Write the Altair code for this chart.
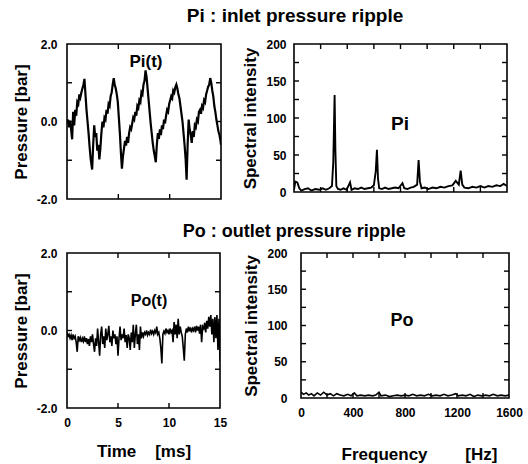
import altair as alt
import pandas as pd

FONT = "Liberation Sans"

# ---------------- data ----------------
# Pi(t): inlet pressure [bar] vs time [ms]
pi_samples = [
    (0.0, -0.05), (0.1, 0.05), (0.2, -0.15), (0.3, 0.02), (0.4, -0.2), (0.5, -0.46),
    (0.6, 0.25), (0.7, -0.1), (0.8, 0.3), (0.9, 0.15), (1.0, 0.5), (1.1, 0.45),
    (1.2, 0.7), (1.3, 0.62), (1.4, 0.75), (1.5, 0.85), (1.6, 0.95), (1.7, 1.1),
    (1.8, 0.7), (1.9, 0.3), (2.0, 0.0), (2.1, -0.3), (2.2, -0.65), (2.3, -0.95),
    (2.45, -1.24), (2.55, -0.6), (2.65, -0.1), (2.75, -0.4), (2.85, -0.3), (2.95, -0.75),
    (3.05, -0.6), (3.15, -0.98), (3.25, -0.7), (3.35, -0.3), (3.45, 0.0), (3.55, -0.15),
    (3.65, 0.1), (3.75, 0.05), (3.85, 0.3), (3.95, 0.2), (4.05, 0.45), (4.15, 0.4),
    (4.25, 0.65), (4.35, 0.75), (4.45, 0.95), (4.55, 1.12), (4.65, 0.95), (4.75, 0.85),
    (4.85, 0.7), (4.95, 0.5), (5.05, 0.1), (5.15, -0.3), (5.25, -0.8), (5.35, -1.22),
    (5.45, -0.9), (5.55, -0.7), (5.65, -0.5), (5.75, -0.62), (5.85, -0.4), (5.95, -0.55),
    (6.05, -0.3), (6.15, -0.15), (6.25, -0.2), (6.35, -0.05), (6.45, 0.1), (6.55, 0.05),
    (6.65, 0.25), (6.75, 0.15), (6.85, 0.4), (6.95, 0.35), (7.05, 0.55), (7.15, 0.5),
    (7.25, 0.75), (7.35, 0.7), (7.45, 0.95), (7.55, 1.05), (7.65, 1.32), (7.75, 1.15),
    (7.85, 0.85), (7.95, 0.55), (8.05, 0.25), (8.15, -0.05), (8.25, -0.3), (8.35, -0.55),
    (8.45, -0.75), (8.55, -0.9), (8.65, -1.05), (8.75, -0.6), (8.85, -0.3), (8.95, -0.45),
    (9.05, -0.2), (9.15, -0.35), (9.25, -0.1), (9.35, -0.2), (9.45, 0.05), (9.55, -0.05),
    (9.65, 0.15), (9.75, 0.3), (9.85, 0.25), (9.95, 0.45), (10.05, 0.55), (10.15, 0.65),
    (10.25, 0.6), (10.35, 0.8), (10.45, 0.75), (10.55, 0.88), (10.65, 0.95), (10.75, 0.85),
    (10.85, 0.7), (10.95, 0.6), (11.05, 0.4), (11.15, 0.2), (11.25, 0.0), (11.35, -0.3),
    (11.45, -0.6), (11.55, -0.95), (11.65, -1.5), (11.75, -0.6), (11.85, 0.05), (11.95, -0.2),
    (12.05, -0.35), (12.15, -0.55), (12.25, -0.25), (12.35, -0.4), (12.45, -0.1), (12.55, -0.15),
    (12.65, 0.05), (12.75, 0.0), (12.85, 0.25), (12.95, 0.3), (13.05, 0.2), (13.15, 0.4),
    (13.25, 0.35), (13.35, 0.55), (13.45, 0.5), (13.55, 0.7), (13.65, 0.8), (13.75, 0.9),
    (13.85, 0.95), (13.95, 1.12), (14.05, 1.0), (14.15, 0.8), (14.25, 0.65), (14.35, 0.4),
    (14.45, 0.25), (14.55, 0.05), (14.65, -0.1), (14.75, -0.25), (14.85, -0.35), (14.95, -0.5),
    (15.0, -0.6),
]

# Po(t): outlet pressure [bar] vs time [ms]
po_samples = [
    (0.0, -0.05), (0.1, -0.15), (0.2, -0.1), (0.3, -0.2), (0.4, -0.12), (0.5, -0.25),
    (0.6, -0.1), (0.7, -0.2), (0.8, -0.15), (0.9, -0.3), (1.0, -0.55), (1.1, -0.15),
    (1.2, -0.25), (1.3, -0.18), (1.4, -0.3), (1.5, -0.2), (1.6, -0.28), (1.7, -0.15),
    (1.8, -0.3), (1.9, -0.2), (2.0, -0.35), (2.1, -0.22), (2.2, -0.4), (2.3, -0.15),
    (2.4, -0.3), (2.5, -0.1), (2.6, -0.35), (2.7, -0.55), (2.8, -0.2), (2.9, -0.4),
    (3.0, 0.05), (3.1, -0.3), (3.2, -0.65), (3.3, -0.1), (3.4, 0.1), (3.5, -0.35),
    (3.6, -0.15), (3.7, -0.45), (3.8, 0.05), (3.9, -0.25), (4.0, -0.1), (4.1, 0.12),
    (4.2, -0.3), (4.3, -0.15), (4.4, -0.4), (4.5, 0.0), (4.6, -0.2), (4.7, -0.1),
    (4.8, -0.35), (4.9, -0.15), (5.0, -0.65), (5.1, -0.2), (5.2, 0.1), (5.3, -0.25),
    (5.4, -0.1), (5.5, -0.2), (5.6, 0.05), (5.7, -0.3), (5.8, -0.12), (5.9, -0.45),
    (6.0, -0.1), (6.1, -0.2), (6.2, -0.5), (6.3, -0.05), (6.4, -0.3), (6.5, 0.15),
    (6.6, -0.45), (6.7, -0.1), (6.8, 0.15), (6.9, -0.35), (7.0, -0.1), (7.1, -0.5),
    (7.2, 0.1), (7.3, -0.2), (7.4, -0.05), (7.5, -0.15), (7.6, -0.05), (7.7, -0.1),
    (7.8, 0.0), (7.9, -0.12), (8.0, -0.05), (8.1, -0.1), (8.2, 0.02), (8.3, -0.08),
    (8.4, -0.02), (8.5, -0.1), (8.6, 0.0), (8.7, -0.06), (8.8, 0.1), (8.9, -0.1),
    (9.0, -0.05), (9.1, -0.2), (9.2, -0.45), (9.3, -0.85), (9.4, -0.1), (9.5, -0.02),
    (9.6, -0.08), (9.7, 0.05), (9.8, -0.05), (9.9, 0.0), (10.0, -0.1), (10.1, 0.05),
    (10.2, -0.05), (10.3, 0.0), (10.4, -0.3), (10.5, 0.22), (10.6, -0.1), (10.7, 0.15),
    (10.8, -0.2), (10.9, 0.3), (11.0, -0.1), (11.1, 0.1), (11.2, -0.05), (11.3, -0.15),
    (11.4, -0.45), (11.5, -0.78), (11.6, -0.1), (11.7, 0.05), (11.8, -0.05), (11.9, 0.1),
    (12.0, -0.02), (12.1, 0.08), (12.2, -0.05), (12.3, 0.05), (12.4, 0.0), (12.5, 0.1),
    (12.6, -0.05), (12.7, 0.12), (12.8, 0.0), (12.9, 0.1), (13.0, -0.08), (13.1, 0.15),
    (13.2, -0.3), (13.3, 0.1), (13.4, 0.05), (13.5, 0.2), (13.6, -0.05), (13.7, 0.25),
    (13.8, 0.05), (13.9, 0.35), (14.0, 0.1), (14.1, 0.4), (14.2, -0.1), (14.3, 0.3),
    (14.4, -0.3), (14.5, 0.35), (14.6, -0.2), (14.7, 0.4), (14.8, -0.5), (14.9, 0.3),
    (15.0, -0.8),
]

# Spectra: frequency [Hz], spectral intensity
pi_spectrum = [
    (0, 3), (10, 14), (25, 13), (40, 5), (55, 2), (80, 4), (105, 5), (130, 2), (160, 4),
    (190, 3), (215, 5), (240, 3), (265, 5), (285, 8), (295, 40), (305, 131), (311, 55),
    (318, 8), (330, 4), (350, 3), (372, 5), (395, 3), (421, 13), (432, 3), (455, 5),
    (480, 4), (505, 6), (530, 4), (555, 5), (580, 6), (600, 9), (614, 28), (623, 57),
    (631, 18), (640, 5), (660, 4), (685, 6), (710, 4), (735, 5), (760, 6), (785, 5),
    (815, 12), (828, 5), (852, 4), (876, 6), (900, 7), (925, 10), (936, 43), (946, 14),
    (958, 5), (982, 6), (1010, 4), (1040, 6), (1070, 5), (1100, 7), (1130, 6), (1160, 8),
    (1190, 9), (1215, 15), (1238, 10), (1252, 29), (1264, 10), (1280, 6), (1310, 5),
    (1340, 7), (1370, 6), (1400, 8), (1430, 6), (1460, 8), (1490, 7), (1520, 9),
    (1550, 8), (1575, 11), (1600, 8),
]

po_spectrum = [
    (0, 8), (20, 5), (40, 7), (60, 4), (80, 6), (100, 3), (125, 7), (150, 4), (175, 8),
    (200, 4), (225, 6), (250, 3), (275, 6), (300, 4), (330, 3), (360, 5), (385, 3),
    (410, 7), (430, 3), (460, 4), (490, 3), (520, 4), (550, 3), (575, 4), (600, 8),
    (615, 3), (650, 4), (680, 2), (710, 3), (740, 4), (770, 3), (800, 4), (830, 3),
    (860, 5), (890, 3), (920, 4), (950, 3), (980, 5), (1010, 3), (1040, 4), (1070, 3),
    (1100, 5), (1130, 3), (1160, 4), (1190, 6), (1210, 3), (1240, 4), (1270, 3),
    (1300, 5), (1330, 2), (1360, 4), (1390, 3), (1420, 4), (1450, 3), (1480, 5),
    (1510, 3), (1540, 4), (1570, 3), (1600, 4),
]

# axis tick positions and labels
time_ticks = [5, 10]
time_labels = [0, 5, 10, 15]
pressure_ticks = [-1, 0, 1]
pressure_labels = [-2, 0, 2]
freq_ticks = [200, 400, 600, 800, 1000, 1200, 1400]
freq_labels = [0, 400, 800, 1200, 1600]
intensity_ticks = [25, 50, 75, 100, 125, 150, 175]
intensity_labels = [0, 50, 100, 150, 200]

NBSP = "\u00a0"
TIME_TITLE = "Time" + NBSP * 4 + "[ms]"
FREQ_TITLE = "Frequency" + NBSP * 8 + "[Hz]"


def to_df(pairs, xname, yname):
    return pd.DataFrame({xname: [a for a, _ in pairs], yname: [b for _, b in pairs]})


def panel(df, xf, yf, xdom, ydom, xt, yt, w, h, xaxis, yaxis, label, lx, ly, lsize, sw):
    xs = alt.Scale(domain=xdom, nice=False, zero=False)
    ys = alt.Scale(domain=ydom, nice=False, zero=False)
    L = 5
    line = alt.Chart(df).mark_line(color="black", strokeWidth=sw, clip=True).encode(
        x=alt.X(f"{xf}:Q", scale=xs, axis=xaxis),
        y=alt.Y(f"{yf}:Q", scale=ys, axis=yaxis),
    )
    xdf = pd.DataFrame({xf: xt})
    ydf = pd.DataFrame({yf: yt})
    rule = dict(color="black", strokeWidth=1.4)
    bot = alt.Chart(xdf).mark_rule(**rule).encode(
        x=alt.X(f"{xf}:Q", scale=xs, axis=xaxis), y=alt.value(h), y2=alt.value(h - L))
    top = alt.Chart(xdf).mark_rule(**rule).encode(
        x=alt.X(f"{xf}:Q", scale=xs, axis=xaxis), y=alt.value(0), y2=alt.value(L))
    lft = alt.Chart(ydf).mark_rule(**rule).encode(
        y=alt.Y(f"{yf}:Q", scale=ys, axis=yaxis), x=alt.value(0), x2=alt.value(L))
    rgt = alt.Chart(ydf).mark_rule(**rule).encode(
        y=alt.Y(f"{yf}:Q", scale=ys, axis=yaxis), x=alt.value(w - L), x2=alt.value(w))
    txt = alt.Chart(pd.DataFrame({"s": [label]})).mark_text(
        font=FONT, fontWeight="bold", fontSize=lsize, color="black",
        align="center", baseline="middle").encode(
        text="s:N", x=alt.value(lx), y=alt.value(ly))
    return alt.layer(line, bot, top, lft, rgt, txt).properties(width=w, height=h)


def yaxis(title, values, fmt, lpad, tpad):
    return alt.Axis(
        title=title, values=values, domain=False, ticks=False, grid=False,
        labelExpr=f"datum.value < 0 ? '-' + format(-datum.value, '{fmt}') : format(datum.value, '{fmt}')",
        labelFont=FONT, labelFontSize=12, labelFontWeight="bold", labelColor="black",
        labelPadding=lpad, labelFlush=False, labelOverlap=False,
        titleFont=FONT, titleFontSize=17, titleFontWeight="bold", titleColor="black",
        titlePadding=tpad,
    )


def xaxis(title, values, lpad, tpad, **kw):
    return alt.Axis(
        title=title, values=values, domain=False, ticks=False, grid=False, format="d",
        labelFont=FONT, labelFontSize=12, labelFontWeight="bold", labelColor="black",
        labelPadding=lpad, labelFlush=False, labelOverlap=False,
        titleFont=FONT, titleFontSize=17, titleFontWeight="bold", titleColor="black",
        titlePadding=tpad, **kw
    )


pi_df = to_df(pi_samples, "t", "p")
po_df = to_df(po_samples, "t", "p")
pis_df = to_df(pi_spectrum, "f", "s")
pos_df = to_df(po_spectrum, "f", "s")

TL = panel(pi_df, "t", "p", [0, 15], [-2, 2], time_ticks, pressure_ticks, 154, 155,
           None, yaxis("Pressure [bar]", pressure_labels, ".1f", 10, 6),
           "Pi(t)", 79, 18, 17, 2.2)
BL = panel(po_df, "t", "p", [0, 15], [-2, 2], time_ticks, pressure_ticks, 153, 155,
           xaxis(TIME_TITLE, time_labels, 9, 15),
           yaxis("Pressure [bar]", pressure_labels, ".1f", 10, 6),
           "Po(t)", 82, 48, 16, 1.6)
TR = panel(pis_df, "f", "s", [0, 1600], [0, 200], freq_ticks, intensity_ticks, 213, 148,
           None, yaxis("Spectral intensity", intensity_labels, "d", 8, 6),
           "Pi", 106, 80, 19, 1.9)
BR = panel(pos_df, "f", "s", [0, 1600], [0, 200], freq_ticks, intensity_ticks, 208, 145,
           xaxis(FREQ_TITLE, freq_labels, 9, 28, titleX=118),
           yaxis("Spectral intensity", intensity_labels, "d", 14, 6),
           "Po", 101, 68, 18, 1.6)

row1 = alt.hconcat(TL, TR, spacing=18).properties(title=alt.TitleParams(
    "Pi : inlet pressure ripple", font=FONT, fontSize=19, fontWeight="bold",
    color="black", anchor="middle", dx=35, offset=11))
row2 = alt.hconcat(BL, BR, spacing=14).properties(title=alt.TitleParams(
    "Po : outlet pressure ripple", font=FONT, fontSize=18, fontWeight="bold",
    color="black", anchor="middle", dx=27, offset=5))

chart = alt.vconcat(row1, row2, spacing=17).properties(
    padding={"left": 11, "top": 7, "right": 0, "bottom": 0},
    background="white",
).configure_view(stroke="black", strokeWidth=1.6)

chart.save("out.html", embed_options={"renderer": "svg", "actions": False})
